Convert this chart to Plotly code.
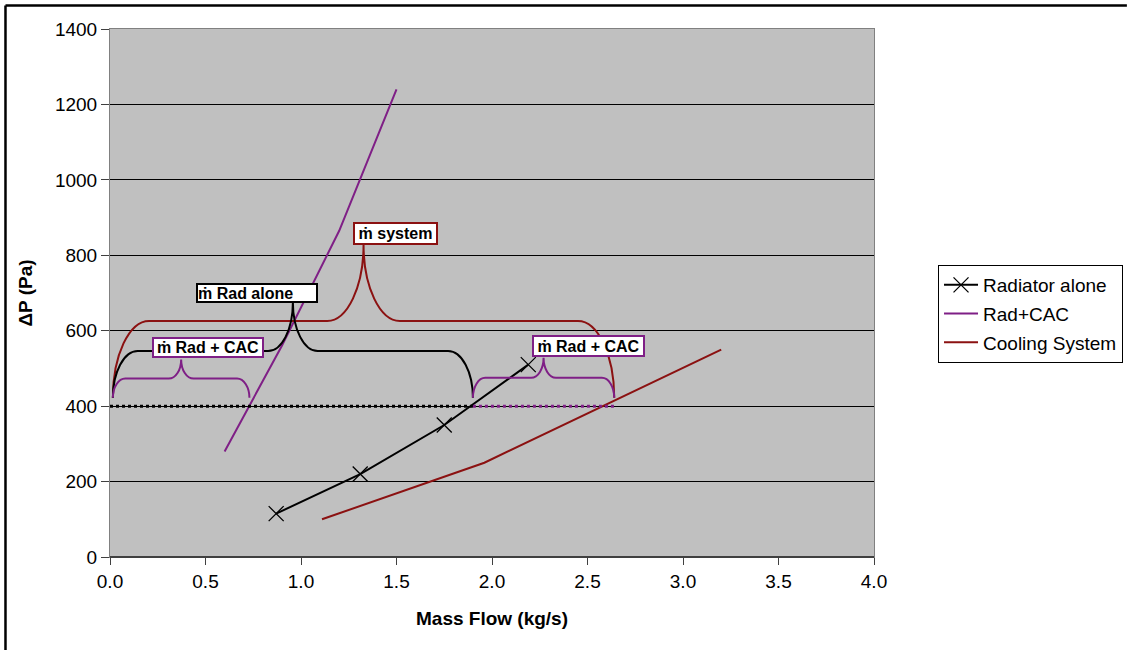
import plotly.graph_objects as go

# ---------------- data ----------------
series_names = ["Radiator alone", "Rad+CAC", "Cooling System"]
rad_mass_flow = [0.87, 1.31, 1.75, 2.19]
rad_dp = [115, 220, 350, 510]
radcac_mass_flow = [0.60, 0.90, 1.20, 1.50]
radcac_dp = [280, 560, 865, 1240]
system_mass_flow = [1.11, 1.96, 3.20]
system_dp = [100, 250, 550]

operating_dp = 400          # Pa, dotted operating line
mdot_rad_cac = 0.73         # kg/s, Rad + CAC share
mdot_rad_alone = 1.90       # kg/s, radiator alone
mdot_system = 2.64          # kg/s, whole system

x_ticks = [0.0, 0.5, 1.0, 1.5, 2.0, 2.5, 3.0, 3.5, 4.0]
y_ticks = [0, 200, 400, 600, 800, 1000, 1200, 1400]
x_title = "Mass Flow (kg/s)"
y_title = "ΔP (Pa)"
label_system = "ṁ system"
label_rad_alone = "ṁ Rad alone"
label_rad_cac = "ṁ Rad + CAC"

# ---------------- style ----------------
BLACK = "#000000"
PURPLE = "#7F1F86"
DRED = "#8B1111"
FONT = "Liberation Sans, Arial, sans-serif"

fig = go.Figure()

fig.add_trace(go.Scatter(
    x=rad_mass_flow, y=rad_dp, name=series_names[0], mode="lines+markers",
    line=dict(color=BLACK, width=2),
    marker=dict(symbol="x-thin", size=15, color=BLACK, line=dict(width=1.3, color=BLACK)),
    legendgroup="a"))
fig.add_trace(go.Scatter(
    x=radcac_mass_flow, y=radcac_dp, name=series_names[1], mode="lines",
    line=dict(color=PURPLE, width=2), legendgroup="b"))
fig.add_trace(go.Scatter(
    x=system_mass_flow, y=system_dp, name=series_names[2], mode="lines",
    line=dict(color=DRED, width=2), legendgroup="c"))

# dotted operating line
fig.add_trace(go.Scatter(
    x=[0, mdot_rad_alone], y=[operating_dp, operating_dp], mode="lines",
    line=dict(color=BLACK, width=3, dash="dot"), showlegend=False, hoverinfo="skip"))
fig.add_trace(go.Scatter(
    x=[mdot_rad_alone, mdot_system], y=[operating_dp, operating_dp], mode="lines",
    line=dict(color=PURPLE, width=3, dash="dot"), showlegend=False, hoverinfo="skip"))


def brace_path(x0, x1, yb, yl, yt, rx):
    k = 0.5523
    xm = (x0 + x1) / 2
    p = f"M {x0},{yb} C {x0},{yb + k * (yl - yb)} {x0 + rx * (1 - k)},{yl} {x0 + rx},{yl}"
    p += f" L {xm - rx},{yl} C {xm - rx + k * rx},{yl} {xm},{yt - k * (yt - yl)} {xm},{yt}"
    p += f" C {xm},{yt - k * (yt - yl)} {xm + rx - k * rx},{yl} {xm + rx},{yl}"
    p += f" L {x1 - rx},{yl} C {x1 - rx * (1 - k)},{yl} {x1},{yb + k * (yl - yb)} {x1},{yb}"
    return p


x_start = 0.015
y_base = operating_dp + 22
braces = [
    (x_start, mdot_system, y_base, 626, 828, 0.19, DRED),
    (x_start, mdot_rad_alone, y_base, 546, 675, 0.13, BLACK),
    (x_start, mdot_rad_cac, y_base, 473, 524, 0.065, PURPLE),
    (mdot_rad_alone, mdot_system, y_base, 475, 528, 0.065, PURPLE),
]
shapes = []
for x0, x1, yb, yl, yt, rx, col in braces:
    shapes.append(dict(type="path", xref="x", yref="y", path=brace_path(x0, x1, yb, yl, yt, rx),
                       line=dict(color=col, width=2)))

# bottom axis line (darker) and outer frame (top + left edges visible)
shapes.append(dict(type="line", xref="paper", yref="paper", x0=0, x1=1, y0=0, y1=0,
                   line=dict(color="#404040", width=2)))
shapes.append(dict(type="line", xref="paper", yref="paper", x0=-0.1368, x1=1.331,
                   y0=1.0445, y1=1.0445, line=dict(color=BLACK, width=2.5)))
shapes.append(dict(type="line", xref="paper", yref="paper", x0=-0.1368, x1=-0.1368,
                   y0=-0.176, y1=1.0445, line=dict(color=BLACK, width=2.5)))

ann = []
def label(text, x, y, col, w, h, align="center"):
    ann.append(dict(x=x, y=y, xref="x", yref="y", text="<b>" + text + "</b>", showarrow=False,
                    font=dict(family=FONT, size=16, color=BLACK), bgcolor="white",
                    bordercolor=col, borderwidth=2, borderpad=0, width=w, height=h,
                    align=align, xanchor="center", yanchor="middle"))

label(label_system, 1.497, 858, DRED, 81, 19)
label(label_rad_alone, 0.770, 701, BLACK, 118, 16, align="left")
label(label_rad_cac, 0.513, 555, PURPLE, 108, 17)
label(label_rad_cac, 2.505, 559, PURPLE, 109, 18)

fig.update_layout(
    width=1127, height=650,
    margin=dict(l=110, r=253, t=29, b=93, autoexpand=False),
    paper_bgcolor="white", plot_bgcolor="#C0C0C0",
    font=dict(family=FONT, size=19, color=BLACK),
    shapes=shapes, annotations=ann,
    legend=dict(x=1.0838, y=0.553, xanchor="left", yanchor="top",
                bordercolor=BLACK, borderwidth=1, bgcolor="white",
                font=dict(family=FONT, size=19, color=BLACK), tracegroupgap=1,
                itemwidth=34),
    showlegend=True,
)
fig.update_xaxes(
    range=[0, 4], tickvals=x_ticks, ticktext=[f"{v:.1f}" for v in x_ticks],
    showgrid=False, zeroline=False, showline=True, linecolor="#808080", linewidth=1, mirror=True,
    ticks="outside", ticklen=7, tickcolor="#404040", tickwidth=1,
    title=dict(text="<b>" + x_title + "</b>", font=dict(family=FONT, size=19), standoff=20),
    fixedrange=True)
fig.update_yaxes(
    range=[0, 1400], tickvals=y_ticks, ticktext=[str(v) for v in y_ticks],
    showgrid=True, gridcolor=BLACK, gridwidth=1, zeroline=False,
    showline=True, linecolor="#808080", linewidth=1, mirror=True,
    ticks="outside", ticklen=8, tickcolor="#404040", tickwidth=1,
    title=dict(text="<b>" + y_title + "</b>", font=dict(family=FONT, size=19), standoff=17),
    fixedrange=True)

fig.write_html("out.html", config={"displayModeBar": False},
               post_script="document.body.style.margin='0px';document.body.style.overflow='hidden';"
                           "document.documentElement.style.overflow='hidden';")
